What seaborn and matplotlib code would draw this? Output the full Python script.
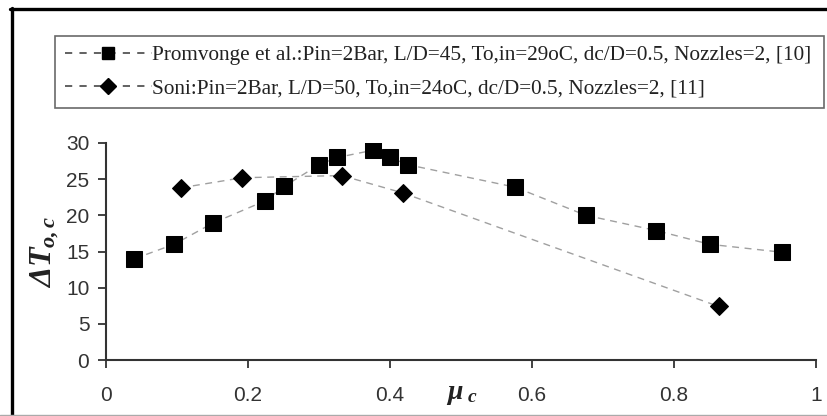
import numpy as np
import pandas as pd
import matplotlib
matplotlib.use("Agg")
import matplotlib.pyplot as plt
import seaborn as sns
from matplotlib.lines import Line2D

# data
promvonge_mu = [0.04, 0.096, 0.15, 0.224, 0.251, 0.30, 0.326, 0.376, 0.40, 0.425, 0.576, 0.676, 0.775, 0.85, 0.952]
promvonge_dt = [14.0, 16.0, 18.9, 22.0, 24.0, 27.0, 28.0, 29.0, 28.0, 27.0, 23.9, 20.0, 17.9, 16.0, 14.9]
soni_mu = [0.105, 0.192, 0.332, 0.418, 0.863]
soni_dt = [23.8, 25.2, 25.5, 23.1, 7.4]

labels = [
    "Promvonge et al.:Pin=2Bar, L/D=45, To,in=29oC, dc/D=0.5, Nozzles=2, [10]",
    "Soni:Pin=2Bar, L/D=50, To,in=24oC, dc/D=0.5, Nozzles=2, [11]",
]
x_ticks = [0, 0.2, 0.4, 0.6, 0.8, 1]
x_tick_labels = ["0", "0.2", "0.4", "0.6", "0.8", "1"]
y_ticks = [0, 5, 10, 15, 20, 25, 30]

sns.set_theme(style="ticks")
plt.rcParams["font.family"] = ["Liberation Sans", "DejaVu Sans"]
plt.rcParams["mathtext.fontset"] = "custom"
plt.rcParams["mathtext.it"] = "Liberation Serif:italic:bold"
plt.rcParams["mathtext.rm"] = "Liberation Serif:italic:bold"
plt.rcParams["mathtext.bf"] = "Liberation Serif:italic:bold"

df_p = pd.DataFrame({"mu": promvonge_mu, "dt": promvonge_dt})
df_s = pd.DataFrame({"mu": soni_mu, "dt": soni_dt})

fig = plt.figure(figsize=(8.27, 4.16), dpi=100)
ax = fig.add_axes([106 / 827, 56 / 416, 710 / 827, 217 / 416])

line_kw = dict(color="#a0a0a0", linewidth=1.0, markerfacecolor="black",
               markeredgecolor="black", sort=False, estimator=None)
sns.lineplot(data=df_p, x="mu", y="dt", ax=ax, marker="s", markersize=11,
             label=labels[0], **line_kw)
sns.lineplot(data=df_s, x="mu", y="dt", ax=ax, marker="D", markersize=9,
             label=labels[1], **line_kw)
for ln in ax.get_lines():
    ln.set_dashes([5, 4])

ax.set_xlim(0, 1)
ax.set_ylim(0, 30)
ax.set_xticks(x_ticks)
ax.set_xticklabels(x_tick_labels)
ax.set_yticks(y_ticks)
ax.tick_params(axis="both", labelsize=15, colors="#333333", length=6,
               width=1.3, direction="out", pad=6)
ax.tick_params(axis="x", pad=13)
for side in ["left", "bottom"]:
    ax.spines[side].set_color("#333333")
    ax.spines[side].set_linewidth(1.5)
sns.despine(ax=ax)

ax.set_ylabel(r"$\Delta T_{o,c}$", fontsize=23, color="#222222")
ax.yaxis.set_label_coords(-0.063, 0.5)
ax.set_xlabel(r"$\mu_{\ c}$", fontsize=20, color="#222222")
ax.xaxis.set_label_coords(0.501, -0.095)

# legend box across the top
handles = [
    Line2D([], [], color="#555555", linewidth=1.3, dashes=[4, 4], marker="s",
           markersize=9, markerfacecolor="black", markeredgecolor="black"),
    Line2D([], [], color="#555555", linewidth=1.3, dashes=[4, 4], marker="D",
           markersize=8, markerfacecolor="black", markeredgecolor="black"),
]
ax.legend_.remove()
leg = fig.legend(handles, labels, loc="upper left",
                 bbox_to_anchor=(55 / 827, 1 - 106 / 416, 769 / 827, 70 / 416),
                 mode="expand",
                 prop={"family": "Liberation Serif", "size": 15.3},
                 frameon=True, fancybox=False, borderaxespad=0,
                 handlelength=4.1, handletextpad=0.0, labelspacing=0.6,
                 borderpad=0.45, markerscale=1.0)
leg.get_frame().set_edgecolor("#444444")
leg.get_frame().set_linewidth(1.2)
for t in leg.get_texts():
    t.set_color("#222222")

# outer frame of the original picture
fig.add_artist(Line2D([11.5 / 827, 11.5 / 827], [0, 1 - 8 / 416], color="black",
                      linewidth=2.4, transform=fig.transFigure))
fig.add_artist(Line2D([10 / 827, 1], [1 - 8.5 / 416, 1 - 8.5 / 416], color="black",
                      linewidth=2.4, transform=fig.transFigure))
fig.add_artist(Line2D([0, 1], [1.5 / 416, 1.5 / 416], color="#aaaaaa",
                      linewidth=1.0, transform=fig.transFigure))

fig.savefig("out.png", dpi=100)
